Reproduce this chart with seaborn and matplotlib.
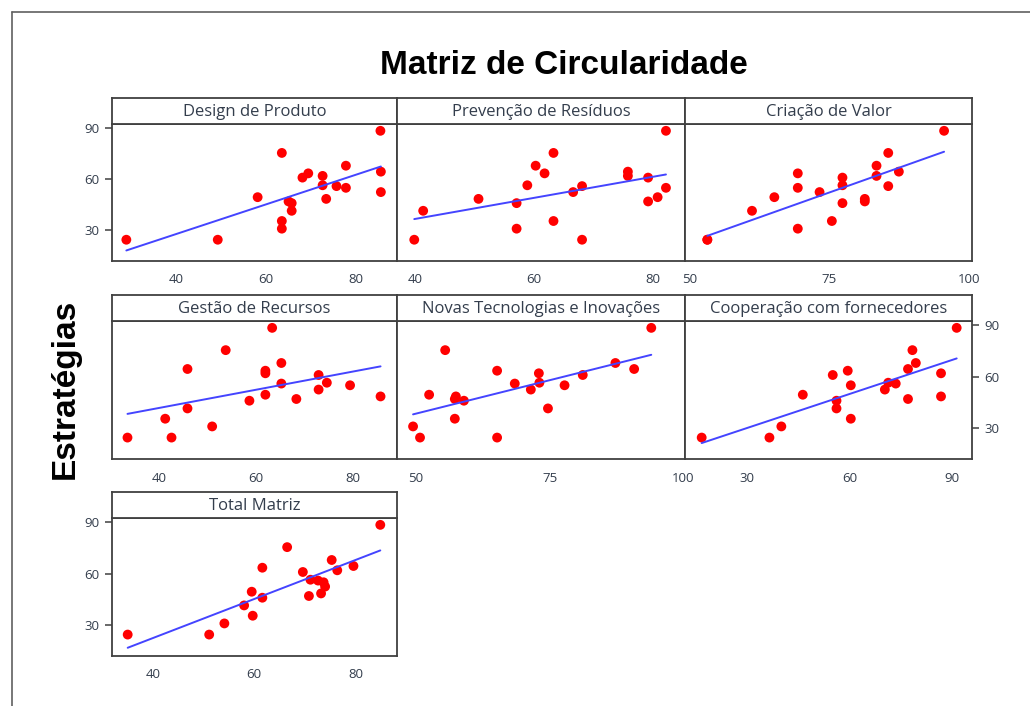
import numpy as np
import pandas as pd
import matplotlib
matplotlib.use("Agg")
import matplotlib.pyplot as plt
import seaborn as sns
from matplotlib.lines import Line2D

# Estratégias (eixo y comum a todos os painéis)
estrategias = [24.5, 24.5, 31, 35.5, 41.5, 46, 47, 48.5, 49.5, 52.5,
               55, 56, 56.5, 61, 62, 63.5, 64.5, 68, 75.5, 88.5]

design_produto = [28.8, 49.2, 63.5, 63.5, 65.7, 65.7, 65.0, 73.4, 58.1, 85.6,
                  77.8, 75.7, 72.6, 68.1, 72.6, 69.4, 85.6, 77.8, 63.5, 85.5]
prevencao_residuos = [39.9, 68.1, 57.1, 63.3, 41.4, 57.1, 79.2, 50.7, 80.8, 66.6,
                      82.2, 68.1, 58.9, 79.2, 75.8, 61.8, 75.8, 60.3, 63.3, 82.2]
criacao_valor = [53.2, 53.2, 69.4, 75.5, 61.2, 77.4, 81.4, 81.4, 65.2, 73.3,
                 69.4, 85.6, 77.4, 77.4, 83.5, 69.4, 87.5, 83.5, 85.6, 95.6]
gestao_recursos = [33.4, 42.5, 50.9, 41.2, 45.8, 58.6, 68.3, 85.7, 61.9, 72.9,
                   79.4, 65.2, 74.6, 72.9, 61.9, 61.9, 45.8, 65.2, 53.7, 63.3]
novas_tecnologias = [50.8, 65.2, 49.5, 57.3, 74.7, 59.0, 57.3, 57.5, 52.5, 71.5,
                     77.8, 68.5, 73.1, 81.2, 73.0, 65.2, 90.8, 87.3, 55.5, 94.0]
cooperacao = [16.6, 36.5, 40.0, 60.4, 56.2, 56.2, 77.2, 86.9, 46.3, 70.4,
              60.4, 73.6, 71.4, 55.1, 86.9, 59.5, 77.2, 79.5, 78.5, 91.5]
total_matriz = [35.0, 51.1, 54.1, 59.7, 58.0, 61.6, 70.8, 73.2, 59.5, 74.0,
                73.7, 72.6, 71.1, 69.6, 76.4, 61.6, 79.6, 75.3, 66.5, 84.9]

paineis = ["Design de Produto", "Prevenção de Resíduos", "Criação de Valor",
           "Gestão de Recursos", "Novas Tecnologias e Inovações",
           "Cooperação com fornecedores", "Total Matriz"]
valores = [design_produto, prevencao_residuos, criacao_valor, gestao_recursos,
           novas_tecnologias, cooperacao, total_matriz]
x_ticks = [[40, 60, 80], [40, 60, 80], [50, 75, 100], [40, 60, 80],
           [50, 75, 100], [30, 60, 90], [40, 60, 80]]
x_lims = [(25.6, 89.2), (37.0, 85.4), (49.2, 100.6), (30.2, 89.1),
          (46.5, 100.3), (11.7, 96.0), (31.9, 88.2)]
y_ticks = [30, 60, 90]

df = pd.concat([pd.DataFrame({"painel": p, "x": v, "Estratégias": estrategias})
                for p, v in zip(paineis, valores)], ignore_index=True)

sns.set_style("white")
plt.rcParams["font.family"] = ["Open Sans", "DejaVu Sans"]

W, H = 1030, 706
fig = plt.figure(figsize=(W / 100, H / 100), dpi=100)

col_x = [(112, 397), (397, 685), (685, 972)]
row_y = [(98, 124, 261), (295, 321, 459), (492, 518, 656)]

spine_c = "#404040"
txt_c = "#333d4c"

for i, nome in enumerate(paineis):
    r, c = divmod(i, 3)
    x0, x1 = col_x[c]
    s0, p0, p1 = row_y[r]
    ax = fig.add_axes([x0 / W, 1 - p1 / H, (x1 - x0) / W, (p1 - p0) / H])
    sub = df[df["painel"] == nome]
    sns.regplot(data=sub, x="x", y="Estratégias", ax=ax, ci=None,
                scatter_kws=dict(color="#ff0000", s=50, edgecolor="none", alpha=1),
                line_kws=dict(color="#4444ff", lw=1.4))
    ax.set_xlim(*x_lims[i])
    ax.set_ylim(12, 92.5)
    ax.set_xlabel("")
    ax.set_ylabel("")
    ax.set_xticks(x_ticks[i])
    ax.set_yticks(y_ticks)
    ax.tick_params(axis="both", direction="out", length=5, width=1.1,
                   color=spine_c, labelsize=9.5, labelcolor=txt_c, pad=4)
    # eixos y alternados como no Minitab
    if i in (0, 6):
        ax.yaxis.tick_left()
    elif i == 5:
        ax.yaxis.tick_right()
    else:
        ax.tick_params(axis="y", left=False, right=False,
                       labelleft=False, labelright=False)
    for sp in ax.spines.values():
        sp.set_color(spine_c)
        sp.set_linewidth(1.3)

    # faixa do título do painel
    sax = fig.add_axes([x0 / W, 1 - p0 / H, (x1 - x0) / W, (p0 - s0) / H])
    sax.set_xticks([])
    sax.set_yticks([])
    for sp in sax.spines.values():
        sp.set_color(spine_c)
        sp.set_linewidth(1.3)
    sax.text(0.5, 0.47, nome, ha="center", va="center", fontsize=12,
             color=txt_c, transform=sax.transAxes)

fig.text(564 / W, 1 - 65 / H, "Matriz de Circularidade", ha="center", va="center",
         fontsize=24, fontweight="bold", family="Liberation Sans", color="black")
fig.text(65 / W, 1 - 389 / H, "Estratégias", ha="center", va="center",
         rotation=90, fontsize=24, fontweight="bold", family="Liberation Sans",
         color="black")

# moldura externa
fig.add_artist(Line2D([12 / W, 12 / W], [0, 1 - 12 / H], color="#606060", lw=1.2))
fig.add_artist(Line2D([12 / W, 1], [1 - 12 / H, 1 - 12 / H], color="#606060", lw=1.2))

fig.savefig("out.png", dpi=100)
